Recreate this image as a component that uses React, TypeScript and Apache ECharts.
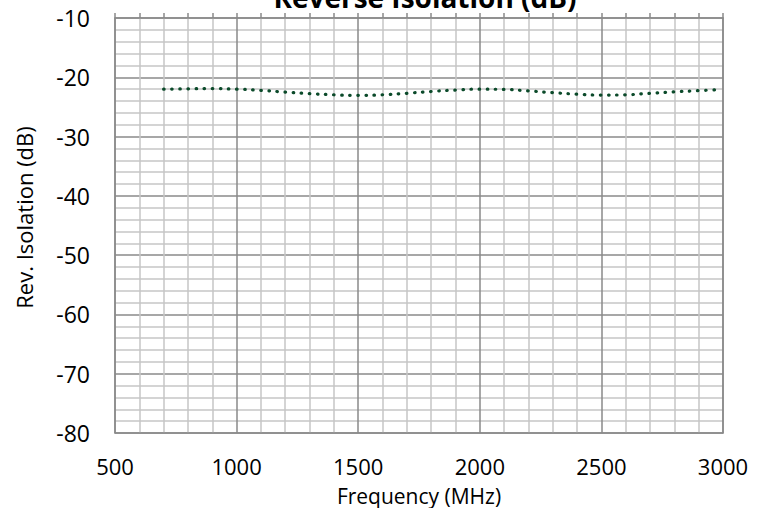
import React, { useEffect, useRef } from "react";
import * as echarts from "echarts";

const frequencies = [700, 800, 900, 1000, 1100, 1200, 1300, 1400, 1500, 1600, 1700, 1800, 1900, 2000, 2100, 2200, 2300, 2400, 2500, 2600, 2700, 2800, 2900, 2980];
const isolation = [-22.0, -21.95, -21.9, -22.0, -22.2, -22.5, -22.75, -22.95, -23.05, -22.95, -22.7, -22.4, -22.15, -22.0, -22.05, -22.3, -22.6, -22.85, -23.0, -22.95, -22.7, -22.45, -22.25, -22.1];

const titleText = "Reverse Isolation (dB)";
const xName = "Frequency (MHz)";
const yName = "Rev. Isolation (dB)";

const FONT = "'Open Sans', 'Noto Sans', sans-serif";

export default function App() {
  const ref = useRef<HTMLDivElement>(null);
  useEffect(() => {
    if (!ref.current) return;
    const chart = echarts.init(ref.current, null, { renderer: "svg" });
    chart.setOption({
      animation: false,
      backgroundColor: "#ffffff",
      title: {
        text: titleText,
        left: 420,
        textAlign: "center",
        top: -22,
        textStyle: { fontFamily: FONT, fontSize: 28, fontWeight: "bold", color: "#000" },
      },
      grid: { left: 115, right: 43, top: 18, bottom: 75, containLabel: false, outerBoundsMode: "none" },
      xAxis: [
        {
          type: "value",
          min: 500,
          max: 3000,
          interval: 500,
          position: "bottom",
          name: xName,
          nameLocation: "middle",
          nameGap: 52,
          nameTextStyle: { fontFamily: FONT, fontSize: 21, lineHeight: 21, color: "#000" },
          axisLine: { show: true, lineStyle: { color: "#8a8a8a", width: 1.5 } },
          axisTick: { show: false },
          axisLabel: { fontFamily: FONT, fontSize: 22, lineHeight: 22, color: "#000", margin: 22, formatter: (v: number) => String(v) },
          splitLine: { show: true, lineStyle: { color: "#8a8a8a", width: 1.5 } },
          minorTick: { show: false, splitNumber: 5 },
          minorSplitLine: { show: true, lineStyle: { color: "#c6c6c6", width: 1.5 } },
        },
        {
          type: "value",
          min: 500,
          max: 3000,
          interval: 100,
          position: "top",
          axisLine: { show: true, onZero: false, lineStyle: { color: "#8a8a8a", width: 1.5 } },
          axisTick: { show: true, length: 5, lineStyle: { color: "#8a8a8a", width: 1.5 } },
          axisLabel: { show: false },
          splitLine: { show: false },
        },
      ],
      yAxis: [
        {
          type: "value",
          min: -80,
          max: -10,
          interval: 10,
          name: yName,
          nameLocation: "middle",
          nameGap: 80,
          nameTextStyle: { fontFamily: FONT, fontSize: 22, color: "#000", padding: [0, 0, 0, 16] },
          axisLine: { show: true, onZero: false, lineStyle: { color: "#8a8a8a", width: 1.5 } },
          axisTick: { show: false },
          axisLabel: { fontFamily: FONT, fontSize: 23, color: "#000", margin: 25, formatter: (v: number) => String(v) },
          splitLine: { show: true, lineStyle: { color: "#8a8a8a", width: 1.5 } },
          minorTick: { show: false, splitNumber: 5 },
          minorSplitLine: { show: true, lineStyle: { color: "#c6c6c6", width: 1.5 } },
        },
        {
          type: "value",
          min: -80,
          max: -10,
          interval: 10,
          position: "right",
          axisLine: { show: true, onZero: false, lineStyle: { color: "#8a8a8a", width: 1.5 } },
          axisTick: { show: false },
          axisLabel: { show: false },
          splitLine: { show: false },
        },
      ],
      series: [
        {
          type: "line",
          xAxisIndex: 0,
          yAxisIndex: 0,
          data: frequencies.map((f, i) => [f, isolation[i]]),
          smooth: true,
          showSymbol: false,
          lineStyle: { color: "#0b4a2a", width: 3.2, type: [0.5, 7.6], cap: "round" },
        },
      ],
    });
    return () => chart.dispose();
  }, []);
  return <div ref={ref} style={{ width: 766, height: 508, position: "absolute", left: 0, top: 0 }} />;
}
